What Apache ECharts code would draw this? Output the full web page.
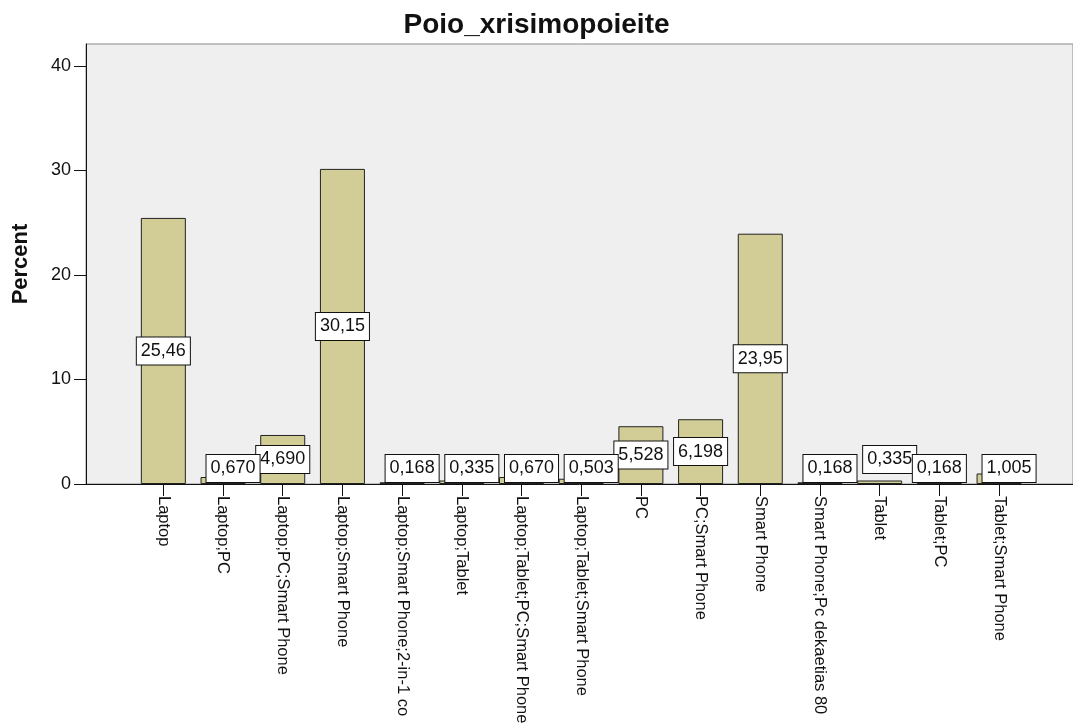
<!DOCTYPE html>
<html>
<head>
<meta charset="utf-8">
<script src="https://cdn.jsdelivr.net/npm/echarts@6/dist/echarts.min.js"></script>
<style>
html,body{margin:0;padding:0;background:#fff;}
#chart{width:1073px;height:724px;}
</style>
</head>
<body>
<div id="chart"></div>
<script>
const titleText = 'Poio_xrisimopoieite';
const yName = 'Percent';
const categories = [
  'Laptop', 'Laptop;PC', 'Laptop;PC;Smart Phone', 'Laptop;Smart Phone',
  'Laptop;Smart Phone;2-in-1 co', 'Laptop;Tablet', 'Laptop;Tablet;PC;Smart Phone',
  'Laptop;Tablet;Smart Phone', 'PC', 'PC;Smart Phone', 'Smart Phone',
  'Smart Phone;Pc dekaetias 80', 'Tablet', 'Tablet;PC', 'Tablet;Smart Phone'
];
const percents = [25.46, 0.670, 4.690, 30.15, 0.168, 0.335, 0.670, 0.503, 5.528, 6.198, 23.95, 0.168, 0.335, 0.168, 1.005];
const yTicks = [0, 10, 20, 30, 40];

const FONT = '"Liberation Sans", Arial, sans-serif';
const Y_MAX = 42.1;
const SMALL = 3.1;

function fmt(v) {
  return (v >= 10 ? v.toFixed(2) : v.toFixed(3)).replace('.', ',');
}

const labelBox = {
  show: true,
  formatter: p => fmt(p.value),
  fontFamily: FONT,
  fontSize: 18,
  lineHeight: 19,
  color: '#111',
  backgroundColor: '#ffffff',
  borderColor: '#111',
  borderWidth: 1,
  padding: [4, 4, 4, 4]
};

// nudges for the small-bar labels (SPSS places them to avoid collisions)
function smallOffset(i) {
  if (categories[i] === 'Tablet') return [10, -9];
  if (categories[i] === 'Tablet;PC') return [0, 0];
  return [10, 0];
}

const bigData = percents.map(v => ({
  value: v,
  label: v >= SMALL ? Object.assign({}, labelBox, { position: 'inside' }) : { show: false }
}));
const smallData = percents.map((v, i) => ({
  value: v,
  label: v < SMALL ? Object.assign({}, labelBox, { position: 'insideBottom', distance: 2, offset: smallOffset(i) }) : { show: false }
}));

const chart = echarts.init(document.getElementById('chart'), null, { renderer: 'canvas' });
chart.setOption({
  animation: false,
  backgroundColor: '#ffffff',
  title: {
    text: titleText,
    left: 'center',
    top: 6,
    textStyle: { fontFamily: FONT, fontSize: 28, fontWeight: 'bold', color: '#111' }
  },
  grid: [
    { left: 86, right: 0, top: 44, bottom: 240, show: true, backgroundColor: '#efefef', borderColor: '#8a8a8a', borderWidth: 1, containLabel: false, outerBoundsMode: 'none' },
    { left: 133.5, right: 44.1, top: 44, bottom: 240, containLabel: false, outerBoundsMode: 'none' }
  ],
  xAxis: [
    {
      gridIndex: 0, type: 'value', min: 0, max: 1,
      axisLine: { show: true, onZero: false, lineStyle: { color: '#111', width: 1 } },
      axisTick: { show: false }, axisLabel: { show: false }, splitLine: { show: false }
    },
    {
      gridIndex: 1, type: 'category', data: categories,
      axisLine: { show: false },
      axisTick: { show: true, alignWithLabel: true, length: 12, lineStyle: { color: '#111', width: 1 } },
      axisLabel: { interval: 0, rotate: -90, margin: 12, fontFamily: FONT, fontSize: 16.5, color: '#111' },
      splitLine: { show: false }
    }
  ],
  yAxis: [
    {
      gridIndex: 0, type: 'value', min: 0, max: Y_MAX, interval: 10,
      name: yName, nameLocation: 'middle', nameGap: 54,
      nameTextStyle: { fontFamily: FONT, fontSize: 22, fontWeight: 'bold', color: '#111' },
      axisLine: { show: true, lineStyle: { color: '#111', width: 1 } },
      axisTick: { show: true, length: 12, customValues: yTicks, lineStyle: { color: '#111', width: 1 } },
      axisLabel: { customValues: yTicks, margin: 15, fontFamily: FONT, fontSize: 18, color: '#111' },
      splitLine: { show: false }
    },
    {
      gridIndex: 1, type: 'value', min: 0, max: Y_MAX, show: false, splitLine: { show: false }
    }
  ],
  series: [
    {
      type: 'bar', xAxisIndex: 1, yAxisIndex: 1,
      data: bigData, barWidth: 45,
      itemStyle: { color: '#d2cd96', borderColor: '#222', borderWidth: 1 },
      z: 2
    },
    {
      type: 'bar', xAxisIndex: 1, yAxisIndex: 1,
      data: smallData, barWidth: 45, barGap: '-100%',
      itemStyle: { color: 'rgba(0,0,0,0)', borderWidth: 0 },
      z: 3
    }
  ]
});
</script>
</body>
</html>
